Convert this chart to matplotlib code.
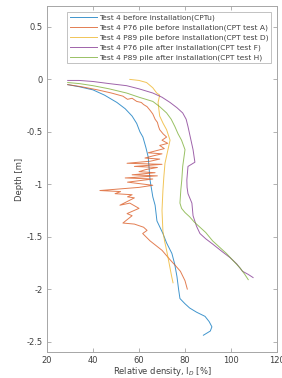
import matplotlib
matplotlib.use("Agg")
import matplotlib.pyplot as plt

plt.rcParams['font.family'] = ['DejaVu Sans']

labels = [
    "Test 4 before installation(CPTu)",
    "Test 4 P76 pile before installation(CPT test A)",
    "Test 4 P89 pile before installation(CPT test D)",
    "Test 4 P76 pile after installation(CPT test F)",
    "Test 4 P89 pile after installation(CPT test H)",
]
colors = ["#0072BD", "#D95319", "#EDB120", "#7E2F8E", "#77AC30"]

# CPTu
cptu_id = [29, 34, 40, 45, 50.4, 54, 57, 59, 60.4, 61.7, 63, 64, 64.8, 66, 67, 67.8,
           70.4, 72, 74.3, 75.5, 76.5, 77.2, 77.8, 80, 82, 85, 88.7, 90.5, 91.7, 91, 88]
cptu_z = [-0.05, -0.07, -0.10, -0.15, -0.22, -0.28, -0.35, -0.42, -0.50, -0.55, -0.65, -0.74,
          -0.96, -1.12, -1.20, -1.35, -1.47, -1.56, -1.66, -1.76, -1.88, -2.00, -2.09, -2.14,
          -2.18, -2.22, -2.26, -2.31, -2.36, -2.40, -2.44]

# CPT test A (noisy)
a_id = [29, 35, 42, 48, 53, 55, 57, 59, 61, 62, 63.5, 65, 66, 67, 68, 68.5, 69, 70.5, 72,
        70, 72.5, 69, 71, 64, 70, 66, 62.6, 69, 65, 54.8, 70, 58, 68, 63, 60, 67, 57, 68,
        54, 66, 55, 66, 60, 43, 52, 49.6, 57, 55, 58, 51.7, 56, 60, 54.8, 57, 53, 58, 62,
        63.5, 61.6, 64.8, 70, 73.5, 76, 78, 80, 81]
a_z = [-0.05, -0.07, -0.10, -0.13, -0.16, -0.19, -0.18, -0.21, -0.22, -0.24, -0.26, -0.30,
       -0.33, -0.38, -0.41, -0.45, -0.48, -0.52, -0.55, -0.58, -0.61, -0.63, -0.66, -0.70,
       -0.71, -0.73, -0.75, -0.76, -0.78, -0.80, -0.81, -0.83, -0.84, -0.86, -0.88, -0.89,
       -0.91, -0.92, -0.94, -0.95, -0.98, -1.01, -1.03, -1.06, -1.07, -1.09, -1.10, -1.12,
       -1.13, -1.20, -1.18, -1.23, -1.28, -1.30, -1.37, -1.38, -1.41, -1.44, -1.47, -1.54,
       -1.63, -1.72, -1.78, -1.83, -1.92, -2.00]

# CPT test D
d_id = [56, 60, 63.3, 66, 67.7, 69, 68.3, 68.6, 69, 70.5, 72, 73.5, 72.5, 71.3, 70.8,
        70.4, 70, 70.2, 70.4, 71.2, 72, 72.8, 73.5, 74.2, 74.8]
d_z = [0.0, -0.01, -0.03, -0.08, -0.13, -0.15, -0.22, -0.28, -0.35, -0.42, -0.48, -0.58,
       -0.68, -0.80, -0.93, -1.06, -1.25, -1.35, -1.45, -1.55, -1.63, -1.72, -1.80, -1.88, -1.94]

# CPT test F
f_id = [29, 34, 40, 47, 54.6, 60, 66, 70, 73.5, 76.5, 79, 80.5, 81.3, 82, 82.8, 83.5, 84.3,
        81.3, 80.8, 80.9, 81.3, 83, 83.5, 85, 86.5, 89, 92, 96, 99.6, 102.5, 105, 107.5, 109.6]
f_z = [-0.01, -0.01, -0.02, -0.04, -0.06, -0.09, -0.13, -0.17, -0.22, -0.27, -0.32, -0.38,
       -0.45, -0.52, -0.60, -0.67, -0.79, -0.83, -0.96, -1.03, -1.09, -1.18, -1.30, -1.40,
       -1.47, -1.52, -1.57, -1.64, -1.70, -1.76, -1.83, -1.86, -1.89]

# CPT test H
h_id = [29, 34, 40, 47, 54.6, 60, 66, 69, 72, 74, 75.6, 77, 78.5, 80, 79.5, 79, 78.6, 78.2,
        77.8, 78.5, 80, 82, 84, 86.5, 89, 92, 95, 98, 101, 104, 106, 107.5]
h_z = [-0.03, -0.04, -0.06, -0.09, -0.13, -0.17, -0.21, -0.26, -0.32, -0.38, -0.45, -0.52,
       -0.58, -0.67, -0.75, -0.83, -0.96, -1.05, -1.18, -1.23, -1.27, -1.31, -1.36, -1.41,
       -1.46, -1.54, -1.60, -1.66, -1.73, -1.80, -1.86, -1.91]

xticks = [20, 40, 60, 80, 100, 120]
yticks = [-2.5, -2, -1.5, -1, -0.5, 0, 0.5]
ytick_labels = ["-2.5", "-2", "-1.5", "-1", "-0.5", "0", "0.5"]

fig = plt.figure(figsize=(2.82, 3.78), dpi=100)
ax = fig.add_axes([47/282, 1-352/378, 230/282, 346/378])

series = [(cptu_id, cptu_z), (a_id, a_z), (d_id, d_z), (f_id, f_z), (h_id, h_z)]
for (xs, zs), c, lab in zip(series, colors, labels):
    ax.plot(xs, zs, color=c, lw=0.7, alpha=0.75, label=lab)

ax.set_xlim(20, 120)
ax.set_ylim(-2.6, 0.7)
ax.set_xticks(xticks)
ax.set_xticklabels([str(t) for t in xticks])
ax.set_yticks(yticks)
ax.set_yticklabels(ytick_labels)

grey = "#a6a6a6"
txt = "#404040"
for s in ax.spines.values():
    s.set_color(grey)
    s.set_linewidth(0.7)
ax.tick_params(direction='in', length=3, width=0.6, color=grey, labelsize=6,
               labelcolor=txt, top=True, right=True, pad=3)

ax.set_xlabel(r"Relative density, I$_D$ [%]", fontsize=6, color=txt, labelpad=0)
ax.set_ylabel("Depth [m]", fontsize=6, color=txt, labelpad=2)

leg = ax.legend(loc='upper right', bbox_to_anchor=(0.974, 0.983), borderaxespad=0,
                fontsize=5.4, frameon=True, fancybox=False, handlelength=3.6,
                handletextpad=0.3, labelspacing=0.42, borderpad=0.35)
leg.get_frame().set_edgecolor(grey)
leg.get_frame().set_linewidth(0.6)
for t in leg.get_texts():
    t.set_color(txt)

fig.savefig("out.png", dpi=100)
